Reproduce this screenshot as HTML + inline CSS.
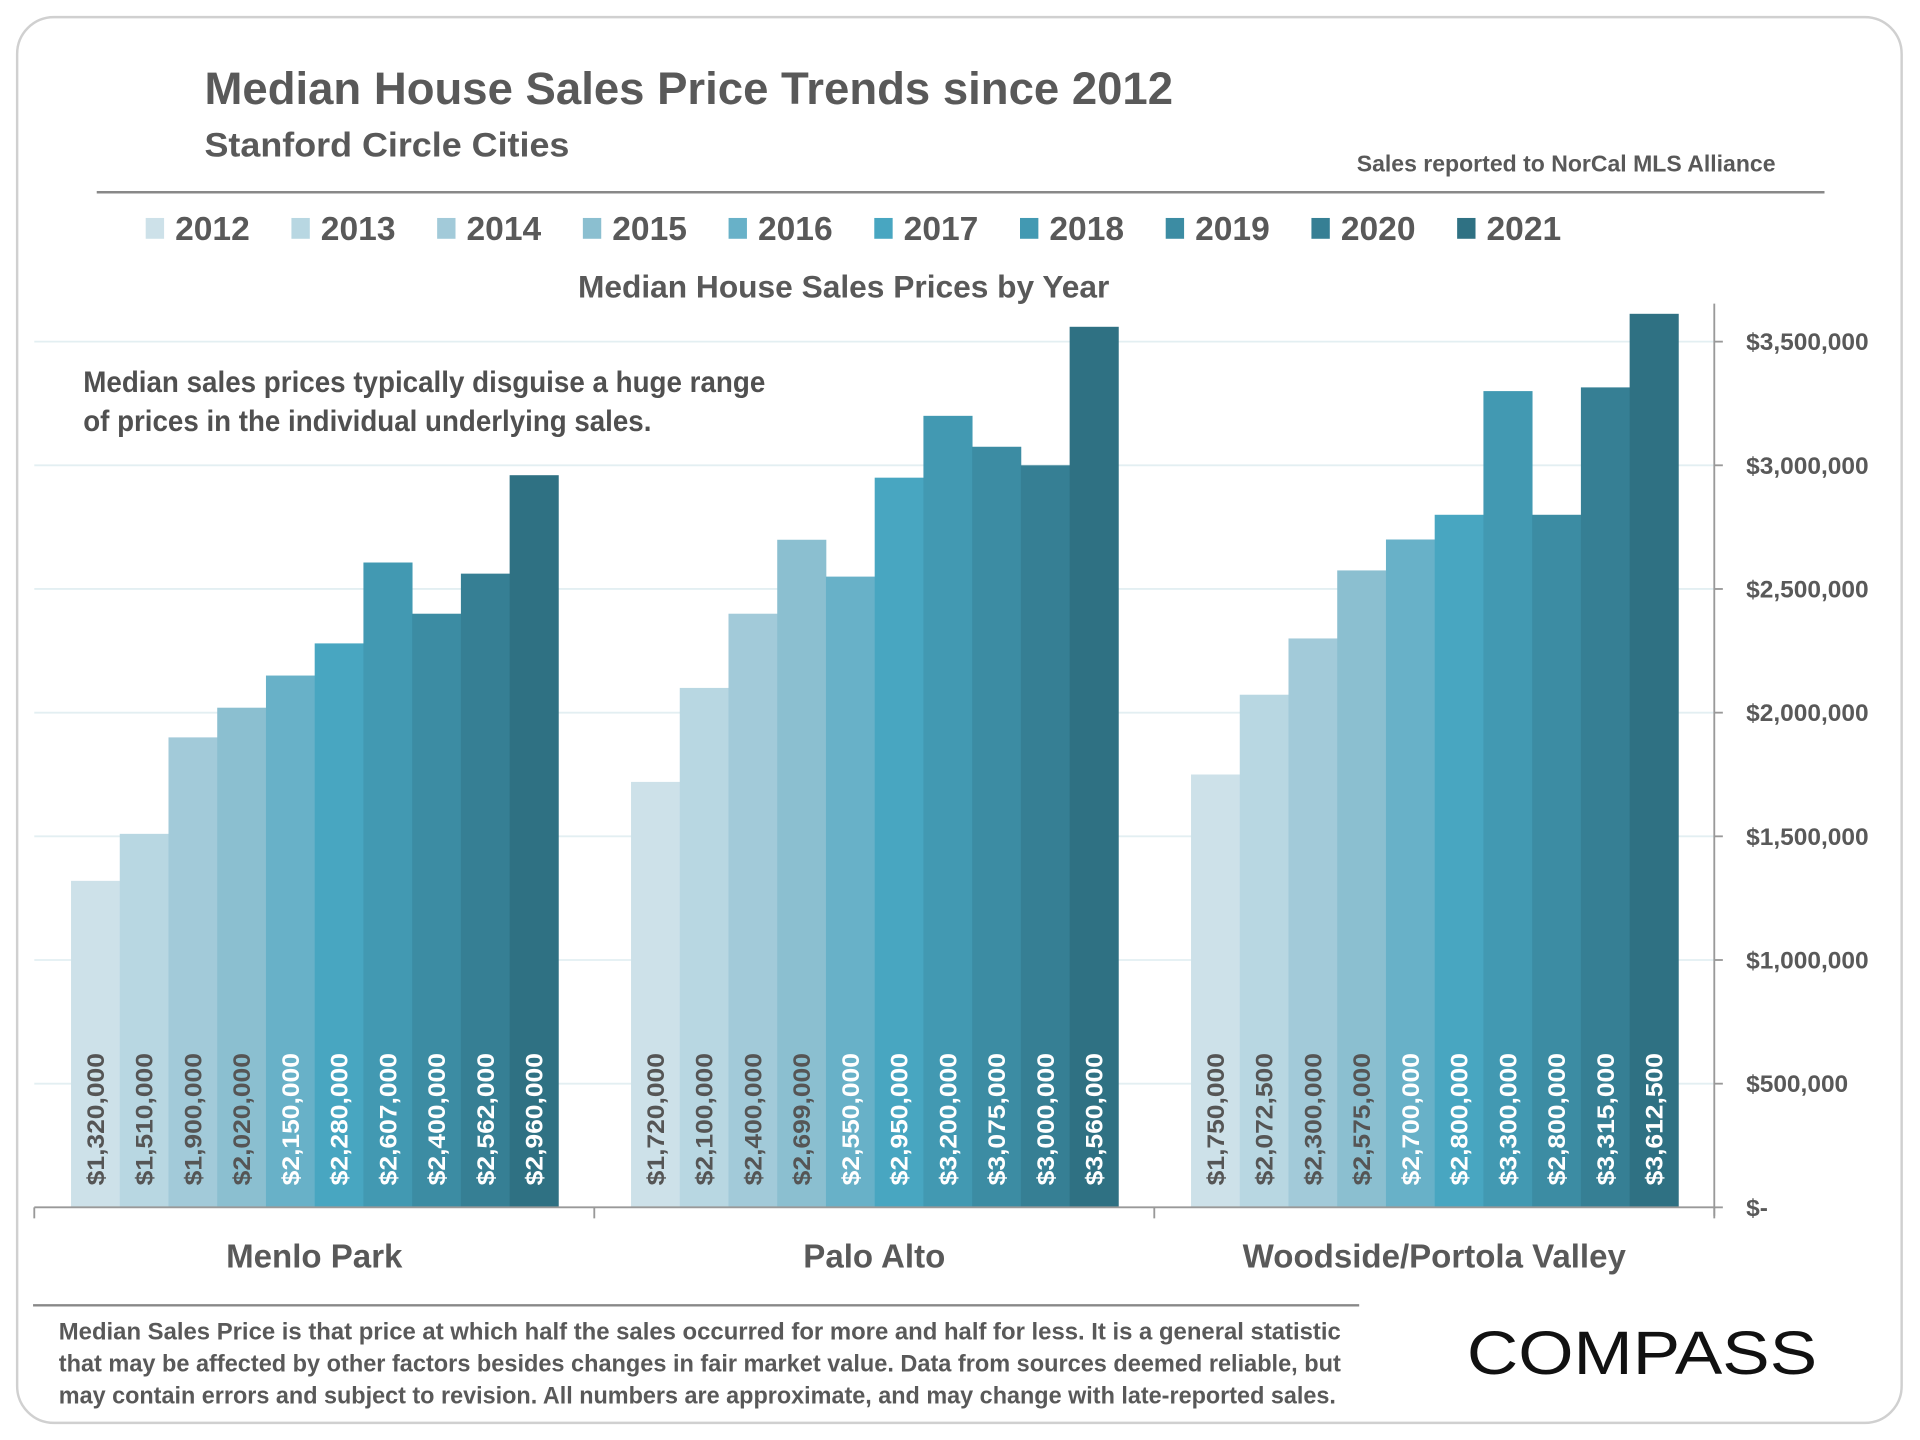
<!DOCTYPE html>
<html><head><meta charset="utf-8"><style>
html,body{margin:0;padding:0;background:#fff;}
svg{display:block;font-family:"Liberation Sans",sans-serif;}
</style></head><body>
<svg id="chart" width="1920" height="1440" viewBox="0 0 1568 1176" xmlns="http://www.w3.org/2000/svg">
<rect x="14" y="14" width="1539" height="1148" rx="30" fill="#fff" stroke="#d0d0d0" stroke-width="2"/>
<text x="167" y="85" font-size="37" font-weight="bold" fill="#595959" textLength="791" lengthAdjust="spacingAndGlyphs">Median House Sales Price Trends since 2012</text>
<text x="167" y="128" font-size="28" font-weight="bold" fill="#595959" textLength="298" lengthAdjust="spacingAndGlyphs">Stanford Circle Cities</text>
<text x="1108" y="140" font-size="19" font-weight="bold" fill="#595959" textLength="342" lengthAdjust="spacingAndGlyphs">Sales reported to NorCal MLS Alliance</text>
<line x1="79" y1="157" x2="1490" y2="157" stroke="#888" stroke-width="2"/>
<g id="legend"></g>
<text x="689" y="243" text-anchor="middle" font-size="26" font-weight="bold" fill="#595959" textLength="434" lengthAdjust="spacingAndGlyphs">Median House Sales Prices by Year</text>
<g id="grid"></g>
<g id="bars"></g>
<g id="axes"></g>
<text x="68" y="320" font-size="24" font-weight="bold" fill="#505050" textLength="557" lengthAdjust="spacingAndGlyphs">Median sales prices typically disguise a huge range</text>
<text x="68" y="352" font-size="24" font-weight="bold" fill="#505050" textLength="464" lengthAdjust="spacingAndGlyphs">of prices in the individual underlying sales.</text>
<line x1="27" y1="1066" x2="1110" y2="1066" stroke="#888" stroke-width="2"/>
<g font-size="19.5" font-weight="bold" fill="#595959">
<text x="48" y="1094" textLength="1047" lengthAdjust="spacingAndGlyphs">Median Sales Price is that price at which half the sales occurred for more and half for less. It is a general statistic</text>
<text x="48" y="1120" textLength="1047" lengthAdjust="spacingAndGlyphs">that may be affected by other factors besides changes in fair market value. Data from sources deemed reliable, but</text>
<text x="48" y="1146" textLength="1043" lengthAdjust="spacingAndGlyphs">may contain errors and subject to revision.  All numbers are approximate, and may change with late-reported sales.</text>
</g>
<text x="1198" y="1122" font-size="50" fill="#111" textLength="286" lengthAdjust="spacingAndGlyphs">COMPASS</text>
</svg>
<script>
const years = ['2012','2013','2014','2015','2016','2017','2018','2019','2020','2021'];
const cities = ['Menlo Park','Palo Alto','Woodside/Portola Valley'];
const menloPark = [1320000,1510000,1900000,2020000,2150000,2280000,2607000,2400000,2562000,2960000];
const paloAlto = [1720000,2100000,2400000,2699000,2550000,2950000,3200000,3075000,3000000,3560000];
const woodside = [1750000,2072500,2300000,2575000,2700000,2800000,3300000,2800000,3315000,3612500];
const yTicks = [0,500000,1000000,1500000,2000000,2500000,3000000,3500000];
const yTickLabels = ['$-','$500,000','$1,000,000','$1,500,000','$2,000,000','$2,500,000','$3,000,000','$3,500,000'];

const colors = ['#cde1e9','#b8d7e2','#a2cad9','#8bbfd0','#68b1c8','#48a6c1','#4299b2','#3c8ca3','#367f94','#2f7183'];
const NS = 'http://www.w3.org/2000/svg';
const plotL = 28, plotR = 1400, baseY = 986, topVal = 3500000, topY = 279;
const yScale = v => baseY - (v / topVal) * (baseY - topY);
const groupW = (plotR - plotL) / cities.length;
const barW = 39.8, groupPad = 30;
const xScale = (g, i) => plotL + g * groupW + groupPad + i * barW;
function mk(tag, attrs, parent) {
  const el = document.createElementNS(NS, tag);
  for (const k in attrs) el.setAttribute(k, attrs[k]);
  parent.appendChild(el);
  return el;
}
const fmt = v => '$' + v.toLocaleString('en-US');

// legend
const legend = document.getElementById('legend');
years.forEach((y, i) => {
  const x = 119 + i * 119;
  const r = mk('rect', {x: x, y: 178, width: 15, height: 17, fill: colors[i]}, legend);
  
  
  const t = mk('text', {x: x + 24, y: 196, 'font-size': 27, 'font-weight': 'bold', fill: '#595959', textLength: 61, lengthAdjust: 'spacingAndGlyphs'}, legend);
  t.textContent = y;
  
  
});

// grid + y labels
const grid = document.getElementById('grid');
const axes = document.getElementById('axes');
yTicks.forEach((v, i) => {
  const y = yScale(v);
  if (v > 0) {
    const l = mk('line', {x1: plotL, x2: plotR, y1: y, y2: y, stroke: '#e3eff2', 'stroke-width': 1.5}, grid);
    
    
  }
  const tk = mk('line', {x1: plotR, x2: plotR + 7, y1: y, y2: y, stroke: '#999', 'stroke-width': 1.5}, axes);
  
  
  const t = mk('text', {x: 1426, y: y + 7, 'font-size': 20, 'font-weight': 'bold', fill: '#595959'}, axes);
  t.textContent = yTickLabels[i];
  
  
});
const ya = mk('line', {x1: plotR, x2: plotR, y1: 248, y2: 993, stroke: '#999', 'stroke-width': 1.5}, axes);


const xa = mk('line', {x1: plotL, x2: plotR, y1: baseY, y2: baseY, stroke: '#999', 'stroke-width': 1.5}, axes);


for (let g = 0; g <= cities.length; g++) {
  const x = plotL + g * groupW;
  const tk = mk('line', {x1: x, x2: x, y1: baseY, y2: baseY + 9, stroke: '#999', 'stroke-width': 1.5}, axes);
  
  
}
cities.forEach((c, g) => {
  const t = mk('text', {x: plotL + g * groupW + groupW / 2, y: 1035, 'text-anchor': 'middle', 'font-size': 27, 'font-weight': 'bold', fill: '#595959'}, axes);
  t.textContent = c;
  
  
});

// bars
const bars = document.getElementById('bars');
[menloPark, paloAlto, woodside].forEach((series, g) => {
  series.forEach((v, i) => {
    const x = xScale(g, i), y = yScale(v);
    const r = mk('rect', {x: x, y: y, width: barW + 0.3, height: baseY - y, fill: colors[i]}, bars);
    
    
    const cx = x + barW / 2 + 7;
    const t = mk('text', {x: cx, y: 968, transform: 'rotate(-90 ' + cx + ' 968)', 'font-size': 20, 'font-weight': 'bold', fill: i < 4 ? '#555' : '#fff', textLength: 108, lengthAdjust: 'spacingAndGlyphs'}, bars);
    t.textContent = fmt(v);
    
    
  });
});
</script>
</body></html>
